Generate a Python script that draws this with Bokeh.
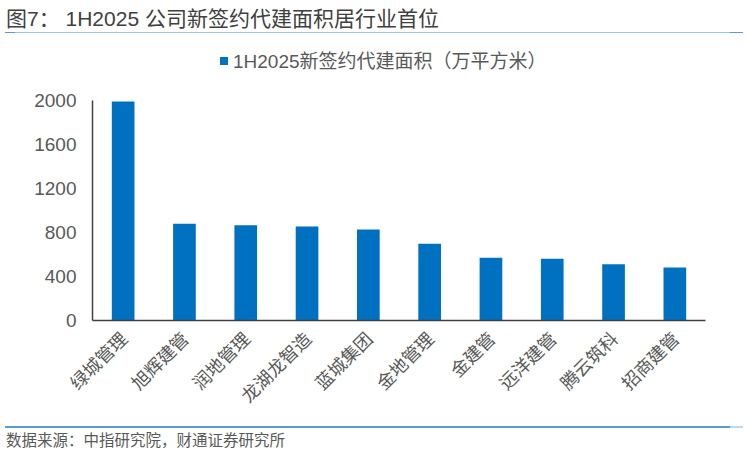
import math
from bokeh.plotting import figure
from bokeh.models import Range1d, FixedTicker, Div
from bokeh.layouts import column
from bokeh.embed import file_html
from bokeh.resources import INLINE

# ---- data ----
companies = ["绿城管理", "旭辉建管", "润地管理", "龙湖龙智造", "蓝城集团",
             "金地管理", "金建管", "远洋建管", "腾云筑科", "招商建管"]
area = [1990, 880, 865, 855, 828, 697, 570, 561, 511, 482]
y_ticks = [0, 400, 800, 1200, 1600, 2000]
series_name = "1H2025新签约代建面积（万平方米）"
title_text = "图7：&nbsp;1H2025 公司新签约代建面积居行业首位"
source_text = "数据来源：中指研究院，财通证券研究所"

W = 748
HEAD_H, MAIN_H, FOOT_H = 80, 340, 37
FL, FR, FT, FB = 92, 705, 100, 320   # frame edges in page pixels
CJK = "Noto Sans CJK SC"
LAT = "Liberation Sans"
MIXCSS = "'Liberation Sans','Noto Sans CJK SC',sans-serif"
GRAY = "#595959"
BAR = "#0070C0"


def span(x, y, html, size, color):
    return (f'<span style="position:absolute;left:{x}px;top:{y}px;transform:translateY(-50%);'
            f'white-space:nowrap;line-height:1;font-family:{MIXCSS};font-size:{size};'
            f'color:{color};">{html}</span>')


def rule(x0, x1, y, h, color):
    return (f'<div style="position:absolute;left:{x0}px;top:{y}px;width:{x1 - x0}px;'
            f'height:{h}px;background:{color};"></div>')


# ---- header (title, rule, legend) ----
head_html = (f'<div style="position:relative;width:{W}px;height:{HEAD_H}px;">'
             + span(6, 17.5, title_text, "21px", "#404040")
             + rule(5, 743, 31.6, 1.5, "#9DC3E6")
             + rule(5, 15, 31.6, 1.5, "#5B9BD5")
             + rule(730, 743, 31.6, 1.5, "#5B9BD5")
             + rule(220, 227.5, 57, 7.5, BAR)
             + span(233, 60.75, series_name, "19px", GRAY)
             + '</div>')
header = Div(text=head_html, width=W, height=HEAD_H, margin=0)

# ---- main chart ----
top_off = HEAD_H
p = figure(x_range=companies, y_range=Range1d(0, 2000), width=W, height=MAIN_H,
           output_backend="svg", toolbar_location=None,
           min_border_left=FL, min_border_right=W - FR,
           min_border_top=FT - top_off, min_border_bottom=top_off + MAIN_H - FB)
p.grid.visible = False
p.outline_line_color = None

p.vbar(x=companies, top=area, width=0.37, fill_color=BAR, line_color=None)

p.yaxis.ticker = FixedTicker(ticks=y_ticks)
p.yaxis.major_tick_out = 0
p.yaxis.major_tick_in = 0
p.yaxis.minor_tick_out = 0
p.yaxis.minor_tick_in = 0
p.yaxis.major_label_standoff = 16
p.yaxis.major_label_text_font = LAT
p.yaxis.major_label_text_font_size = "19px"
p.yaxis.major_label_text_color = GRAY
p.yaxis.axis_line_color = "#404040"
p.yaxis.axis_line_width = 1.5

p.xaxis.major_tick_out = 0
p.xaxis.major_tick_in = 0
p.xaxis.major_label_orientation = math.pi / 4
p.xaxis.major_label_standoff = 14
p.xaxis.major_label_text_font = CJK
p.xaxis.major_label_text_font_size = "18px"
p.xaxis.major_label_text_color = GRAY
p.xaxis.axis_line_color = "#404040"
p.xaxis.axis_line_width = 1.5

# ---- footer (rule, source) ----
base = HEAD_H + MAIN_H
foot_html = (f'<div style="position:relative;width:{W}px;height:{FOOT_H}px;">'
             + rule(5, 743, 426 - base, 1.5, "#5B9BD5")
             + rule(730, 743, 426 - base, 1.5, "#BDD7EE")
             + span(6, 441 - base, source_text, "15.5px", GRAY)
             + '</div>')
footer = Div(text=foot_html, width=W, height=FOOT_H, margin=0)

layout = column(header, p, footer, spacing=0)
open("out.html", "w").write(file_html(layout, INLINE))
